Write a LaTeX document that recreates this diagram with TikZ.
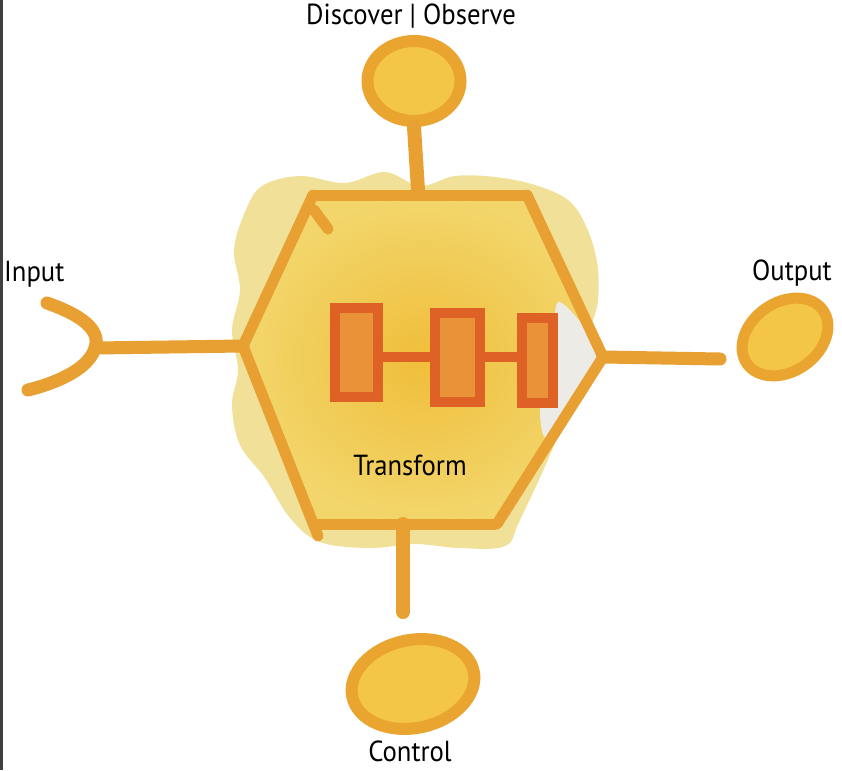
\documentclass[tikz,border=0pt]{standalone}
\usepackage{fontspec}
\setmainfont{PT Sans}
\usetikzlibrary{shapes.geometric}

\definecolor{rimcol}{RGB}{232,160,50}
\definecolor{ringcol}{RGB}{234,164,48}
\definecolor{coincol}{RGB}{243,198,72}
\definecolor{palecol}{RGB}{240,224,152}
\definecolor{hexcore}{RGB}{240,190,58}
\definecolor{hexouter}{RGB}{242,214,108}
\definecolor{blockred}{RGB}{222,98,38}
\definecolor{blockfill}{RGB}{234,146,56}
\definecolor{papercol}{RGB}{236,235,230}
\definecolor{framecol}{RGB}{64,64,64}

\begin{document}
\begin{tikzpicture}[x=1pt,y=-1pt,
    rim/.style={draw=rimcol, line width=11pt, line cap=round, line join=round},
    stem/.style={draw=rimcol, line width=14pt, line cap=round},
    pad/.style={ellipse, draw=ringcol, line width=12pt, fill=coincol, inner sep=0pt},
    block/.style={draw=blockred, line width=10pt, fill=blockfill, inner sep=0pt},
    link/.style={draw=blockred, line width=10pt, line cap=round},
    lbl/.style={font=\fontsize{29}{31}\selectfont, text=black, inner sep=0pt, xscale=0.92}]

    \fill[white] (0,0) rectangle (842,770);
    \fill[framecol] (0,0) rectangle (2.5,770);

    % watercolour wash behind the hexagon
    \fill[palecol] plot[smooth cycle, tension=0.6] coordinates {
        (262,186) (300,176) (345,183) (385,172) (420,186) (455,176) (495,177)
        (535,185) (568,200) (586,226) (597,262) (598,300) (590,330)
        (560,430) (520,520) (505,546) (460,548) (415,544) (370,548)
        (320,542) (290,518) (265,478) (240,445) (232,405) (238,370)
        (232,330) (240,290) (234,250) (245,212)};

    \coordinate (htl) at (313,195);
    \coordinate (htr) at (527,195);
    \coordinate (hr)  at (603,357);
    \coordinate (hbr) at (497,524);
    \coordinate (hbl) at (318,524);
    \coordinate (hl)  at (243,346);

    \shade[inner color=hexcore, outer color=hexouter]
        (htl) -- (htr) -- (hr) -- (hbr) -- (hbl) -- (hl) -- cycle;
    \fill[papercol] plot[smooth cycle, tension=0.5] coordinates {
        (558,302) (582,324) (598,352) (598,366) (576,396) (547,438)
        (540,412) (548,380) (553,340)};

    \draw[rim] (htl) -- (htr);
    \draw[rim] (htr) -- (hr);
    \draw[rim] (hr) -- (hbr);
    \draw[rim] ([xshift=-3pt]hbl) -- ([xshift=-2pt]hbr);
    \draw[rim] (hl) -- ([yshift=-12pt]hbl);
    \draw[rim] (htl) -- (hl);
    \draw[rim] (314,210) -- (328,229);

    % the three stages inside
    \node[block, minimum width=43pt, minimum height=89pt] (s1) at (356,352) {};
    \node[block, minimum width=45pt, minimum height=89pt] (s2) at (457,357) {};
    \node[block, minimum width=31pt, minimum height=85pt] (s3) at (537,360) {};
    \draw[link] (s1.east |- s2) -- (s2.west);
    \draw[link] (s2.east) -- (s2.east -| s3.west);

    \node[lbl] (tf) at (410,465) {Transform};

    % discover / observe
    \node[pad, minimum width=93pt, minimum height=80pt] (disc) at (414,81) {};
    \coordinate (dfoot) at (418,190);
    \draw[stem] (disc.south) -- (dfoot);
    \node[lbl] (disclbl) at (411,16) {Discover | Observe};

    % input
    \coordinate (inp) at (95,348);
    \draw[rim, line width=13pt] (47,303) .. controls (90,318) and (100,334) .. (inp)
        .. controls (89,368) and (60,382) .. (28,390);
    \draw[rim, line width=13pt] (inp) -- (hl);
    \node[lbl, anchor=west] (inlbl) at (4,274) {Input};

    % output
    \node[pad, line width=11pt, minimum width=93pt, minimum height=69pt, rotate=35] (outp) at (785,337) {};
    \coordinate (otip) at (720,359);
    \draw[rim, line width=13pt] (hr) -- (otip);
    \node[lbl] (outlbl) at (792,273) {Output};

    % control
    \node[pad, minimum width=124pt, minimum height=88pt, rotate=12] (ctrl) at (413,684) {};
    \coordinate (cfoot) at (403,612);
    \coordinate (ctop) at (hbl -| cfoot);
    \draw[stem] (ctop) -- (cfoot);
    \node[lbl] (ctrllbl) at (410,751) {Control};
\end{tikzpicture}
\end{document}
